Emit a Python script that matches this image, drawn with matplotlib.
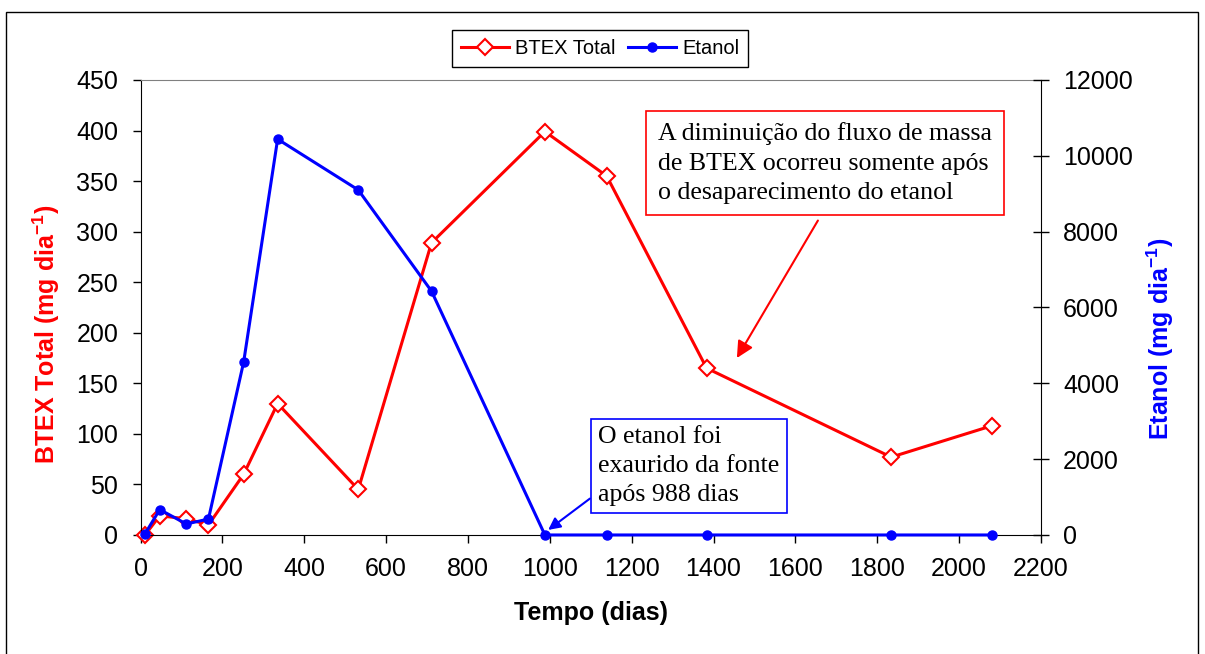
from matplotlib import pyplot as plt
from matplotlib.patches import Rectangle

plt.rcParams['font.family'] = 'Liberation Sans'
plt.rcParams['mathtext.fontset'] = 'custom'
plt.rcParams['mathtext.rm'] = 'Liberation Sans'
plt.rcParams['mathtext.bf'] = 'Liberation Sans:bold'

# Dados
dias = [11, 47, 112, 166, 252, 335, 532, 711, 988, 1139, 1383, 1834, 2080]
btex = [0, 19, 16, 10, 60, 130, 45, 289, 399, 355, 165, 77, 108]
etanol = [30, 670, 290, 420, 4560, 10440, 9100, 6430, 0, 0, 0, 0, 0]

xticks = list(range(0, 2201, 200))
yticks_btex = list(range(0, 451, 50))
yticks_etanol = list(range(0, 12001, 2000))

texto_btex = 'A diminuição do fluxo de massa\nde BTEX ocorreu somente após\no desaparecimento do etanol'
texto_etanol = 'O etanol foi\nexaurido da fonte\napós 988 dias'

fig = plt.figure(figsize=(12.05, 6.54), dpi=100)
ax1 = fig.add_axes([0.1166, 0.182, 0.7473, 0.6957])
ax2 = ax1.twinx()

l1, = ax1.plot(dias, btex, color='red', lw=2.2, marker='D', markersize=8,
               markerfacecolor='white', markeredgecolor='red', markeredgewidth=1.5,
               clip_on=False, label='BTEX Total')
l2, = ax2.plot(dias, etanol, color='blue', lw=2.2, marker='o', markersize=6.5,
               clip_on=False, label='Etanol')

ax1.set_xlim(0, 2200)
ax1.set_ylim(0, 450)
ax2.set_ylim(0, 12000)
ax1.set_xticks(xticks)
ax1.set_yticks(yticks_btex)
ax2.set_yticks(yticks_etanol)

ax1.tick_params(axis='both', labelsize=18, direction='out', length=6, width=1, pad=10)
ax2.tick_params(axis='y', labelsize=18, direction='inout', length=12, width=1, pad=10)

for s in ['left', 'bottom']:
    ax1.spines[s].set_color('black')
ax1.spines['top'].set_color('#808080')
ax1.spines['right'].set_visible(False)
for s in ['left', 'bottom', 'top']:
    ax2.spines[s].set_visible(False)
ax2.spines['right'].set_color('black')

ax1.set_xlabel('Tempo (dias)', fontsize=18, fontweight='bold')
ax1.xaxis.set_label_coords(0.5, -0.145)
ax1.set_ylabel('BTEX Total (mg dia$^{\\mathbf{-1}}$)', fontsize=18, fontweight='bold',
               color='red', va='center')
ax1.yaxis.set_label_coords(-0.105, 0.44)
ax2.set_ylabel('Etanol (mg dia$^{\\mathbf{-1}}$)', fontsize=18, fontweight='bold',
               color='blue', va='center', rotation=90)
ax2.yaxis.set_label_coords(1.132, 0.43)

# Caixas de texto e setas
ax1.text(1264, 408, texto_btex, fontsize=18.6, family='Liberation Serif',
         ha='left', va='top', zorder=5, linespacing=1.42,
         bbox=dict(boxstyle='square,pad=0.45', fc='white', ec='red', lw=1.2))
ax1.annotate('', xy=(1457, 175), xytext=(1655, 311),
             arrowprops=dict(arrowstyle='-|>', color='red', lw=1.5,
                             mutation_scale=25, shrinkA=0, shrinkB=0))

ax1.text(1118, 108, texto_etanol, fontsize=18.6, family='Liberation Serif',
         ha='left', va='top', zorder=5, linespacing=1.42,
         bbox=dict(boxstyle='square,pad=0.28', fc='white', ec='blue', lw=1.2))
ax1.annotate('', xy=(996, 5), xytext=(1098, 36),
             arrowprops=dict(arrowstyle='-|>', color='blue', lw=1.5,
                             mutation_scale=18, shrinkA=0, shrinkB=0))

fig.legend([l1, l2], ['BTEX Total', 'Etanol'], loc='upper center',
           bbox_to_anchor=(0.498, 0.954), ncol=2, fontsize=14.5,
           frameon=True, fancybox=False, edgecolor='black', framealpha=1,
           borderaxespad=0, borderpad=0.45, handlelength=2.4, handletextpad=0.3,
           columnspacing=0.6)

# Moldura externa
fig.patches.append(Rectangle((0.005, -0.01), 0.989, 0.992, transform=fig.transFigure,
                             fill=False, ec='black', lw=1))

fig.savefig('out.png', dpi=100)
